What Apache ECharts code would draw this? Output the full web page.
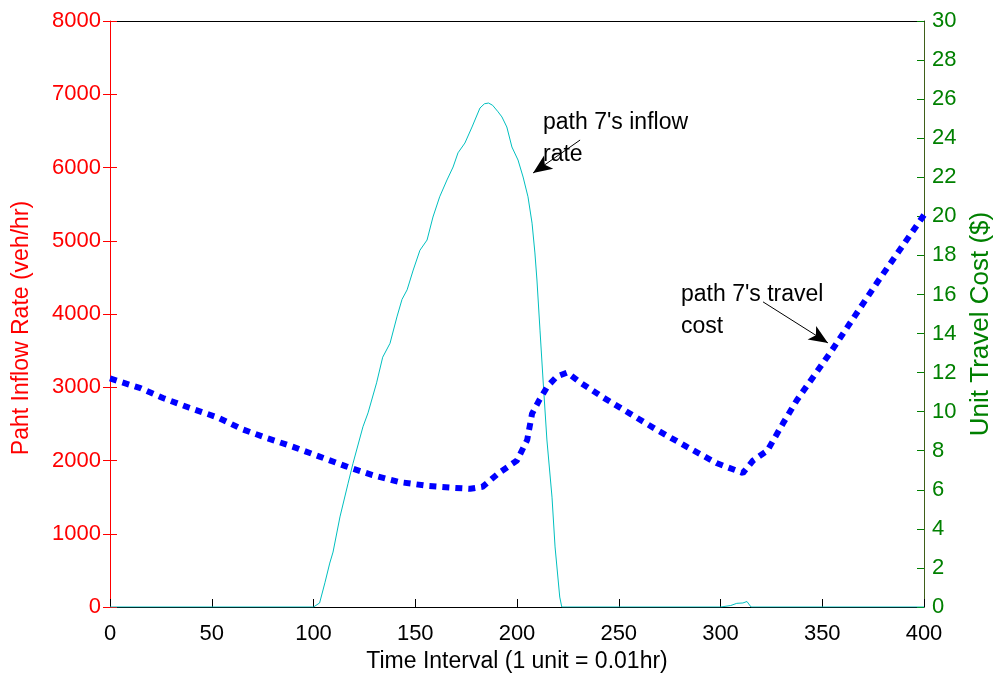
<!DOCTYPE html>
<html>
<head>
<meta charset="utf-8">
<script src="https://cdn.jsdelivr.net/npm/echarts@6/dist/echarts.min.js"></script>
<style>
html,body{margin:0;padding:0;background:#fff;}
#chart{width:994px;height:682px;}
</style>
</head>
<body>
<div id="chart"></div>
<script>
// ---- data ----
var xTicks = [0, 50, 100, 150, 200, 250, 300, 350, 400];
var leftTicks = [0, 1000, 2000, 3000, 4000, 5000, 6000, 7000, 8000];
var rightTicks = [0, 2, 4, 6, 8, 10, 12, 14, 16, 18, 20, 22, 24, 26, 28, 30];

var inflowX = [0, 100, 100.7, 103, 105.6, 108, 109.6, 113, 117, 119.4, 124.3, 126.8, 131, 134, 137.6, 141, 143.5, 146, 149, 152.3, 155.8, 158.7, 162, 165.6, 168.6, 171, 174.4, 177.9, 181.8, 184, 186, 188, 190.7, 192.6, 195, 197.5, 200.5, 203, 205.4, 207.4, 208.8, 209.8, 211.3, 212.8, 214.7, 217.2, 218.7, 221, 222, 225, 300, 305, 308, 311, 313, 315, 400];
var inflowY = [0, 0, 0, 55, 330, 600, 750, 1230, 1690, 1960, 2460, 2650, 3060, 3410, 3600, 3960, 4200, 4330, 4600, 4870, 5010, 5324, 5600, 5830, 6007, 6200, 6334, 6553, 6812, 6870, 6880, 6850, 6760, 6690, 6553, 6280, 6102, 5870, 5600, 5240, 4833, 4464, 3780, 3099, 2280, 1500, 820, 136, 0, 0, 0, 20, 50, 55, 75, 0, 0];

var costX = [0, 15, 26, 39, 53, 65, 77, 90, 103, 116, 129, 142, 156, 169, 177, 183, 191, 200, 205, 207.4, 211, 215, 219.6, 224.6, 231, 242, 255.5, 269, 283.5, 298, 311, 316, 323, 330.7, 337.6, 354.8, 376.9, 400];
var costY = [11.7, 11.2, 10.7, 10.2, 9.7, 9.1, 8.65, 8.2, 7.7, 7.2, 6.75, 6.4, 6.2, 6.1, 6.05, 6.15, 6.85, 7.5, 8.55, 9.9, 10.6, 11.3, 11.8, 12.0, 11.5, 10.75, 9.9, 9.05, 8.2, 7.37, 6.86, 7.5, 8.0, 9.4, 10.6, 13.15, 16.6, 20.07];

// annotation arrows (data coordinates: start, tip)
var inflowArrow = [[231, 6375], [207.9, 5925]];
var costArrow = [[320.9, 15.62], [352.8, 13.52]];
var inflowNote = "path 7's inflow\nrate";
var costNote = "path 7's travel\ncost";

function pairs(xs, ys) { return xs.map(function (x, i) { return [x, ys[i]]; }); }
function plain(v) { return String(v); }

var FONT = 'Liberation Sans, Arial, sans-serif';
var chart = echarts.init(document.getElementById('chart'), null, {renderer: 'canvas'});

var option = {
  animation: false,
  backgroundColor: '#fff',
  grid: {left: 110, right: 70, top: 21, bottom: 75, containLabel: false, outerBoundsMode: 'none'},
  xAxis: [{
    type: 'value', min: 0, max: 400, interval: 50, position: 'bottom',
    name: 'Time Interval (1 unit = 0.01hr)', nameLocation: 'middle', nameGap: 43,
    nameTextStyle: {color: '#000', fontSize: 23, fontFamily: FONT},
    axisLine: {show: true, lineStyle: {color: '#000', width: 1}},
    axisTick: {show: true, inside: true, length: 8, lineStyle: {color: '#000'}},
    axisLabel: {color: '#000', fontSize: 22, fontFamily: FONT, margin: 16, formatter: plain},
    splitLine: {show: false}
  }, {
    type: 'value', min: 0, max: 400, position: 'top',
    axisLine: {show: true, onZero: false, lineStyle: {color: '#000', width: 1}},
    axisTick: {show: false}, axisLabel: {show: false}, splitLine: {show: false}
  }],
  yAxis: [{
    type: 'value', min: 0, max: 8000, interval: 1000, position: 'left',
    name: 'Paht Inflow Rate (veh/hr)', nameLocation: 'middle', nameGap: 77, nameRotate: 90,
    nameTextStyle: {color: '#ff0000', fontSize: 23, fontFamily: FONT, padding: [0, 28, 0, 0]},
    axisLine: {show: true, onZero: false, lineStyle: {color: '#ff0000', width: 1}},
    axisTick: {show: true, inside: true, length: 7, lineStyle: {color: '#ff0000'}},
    axisLabel: {color: '#ff0000', fontSize: 22, fontFamily: FONT, margin: 9, formatter: plain},
    splitLine: {show: false}
  }, {
    type: 'value', min: 0, max: 30, interval: 2, position: 'right',
    name: 'Unit Travel Cost ($)', nameLocation: 'middle', nameGap: 40, nameRotate: 90,
    nameTextStyle: {color: '#008000', fontSize: 26, fontFamily: FONT, padding: [0, 20, 0, 0]},
    axisLine: {show: true, onZero: false, lineStyle: {color: '#3f5f1a', width: 1}},
    axisTick: {show: true, inside: true, length: 7, lineStyle: {color: '#008000'}},
    axisLabel: {color: '#008000', fontSize: 22, fontFamily: FONT, margin: 8, formatter: plain},
    splitLine: {show: false}
  }, {
    // mirrored red ticks of the left axis on the right side
    type: 'value', min: 0, max: 8000, interval: 1000, position: 'right',
    axisLine: {show: false},
    axisTick: {show: true, inside: true, length: 7, lineStyle: {color: '#ff0000'}},
    axisLabel: {show: false}, splitLine: {show: false}
  }],
  series: [{
    name: 'inflow', type: 'line', xAxisIndex: 0, yAxisIndex: 0,
    data: pairs(inflowX, inflowY), showSymbol: false, symbol: 'none',
    lineStyle: {color: '#00bfbf', width: 1}, z: 3,
    markLine: {
      silent: true, symbol: ['none', 'arrow'], symbolSize: [12, 19],
      label: {show: false}, lineStyle: {color: '#000', width: 1, type: 'solid'},
      itemStyle: {color: '#000'},
      data: [[{coord: inflowArrow[0]}, {coord: inflowArrow[1]}]]
    }
  }, {
    name: 'cost', type: 'line', xAxisIndex: 0, yAxisIndex: 1,
    data: pairs(costX, costY), showSymbol: false, symbol: 'none',
    lineStyle: {color: '#0000ff', width: 6, type: [7, 6], cap: 'butt'}, z: 4,
    markLine: {
      silent: true, symbol: ['none', 'arrow'], symbolSize: [12, 19],
      label: {show: false}, lineStyle: {color: '#000', width: 1, type: 'solid'},
      itemStyle: {color: '#000'},
      data: [[{coord: costArrow[0]}, {coord: costArrow[1]}]]
    }
  }],
  graphic: [{
    type: 'text', left: 543, top: 107, z: 10,
    style: {text: inflowNote, fill: '#000', font: '23px ' + FONT, lineHeight: 32}
  }, {
    type: 'text', left: 681, top: 279, z: 10,
    style: {text: costNote, fill: '#000', font: '23px ' + FONT, lineHeight: 32}
  }]
};
chart.setOption(option);
</script>
</body>
</html>
